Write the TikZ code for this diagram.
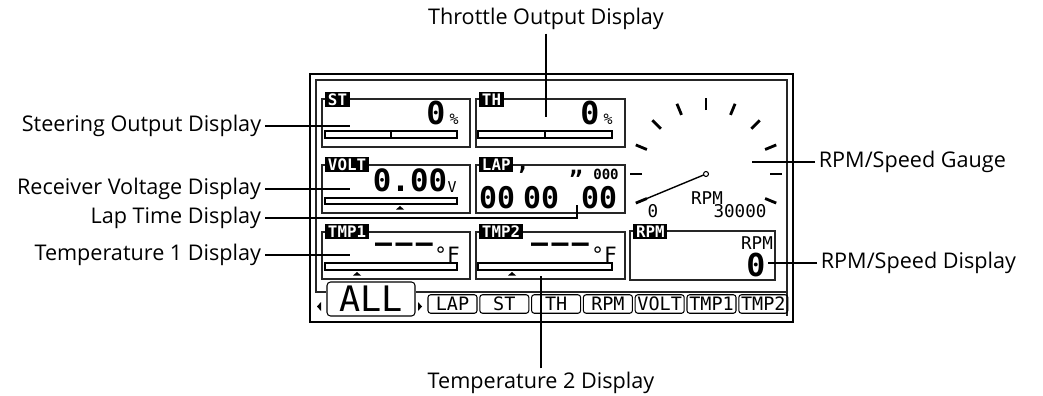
\documentclass[tikz,border=0pt]{standalone}
\usepackage{fontspec}
\usetikzlibrary{calc}
\newfontfamily\calloutfont{Open Sans}
\newfontfamily\lcdfont{DejaVu Sans Mono}
\newcommand{\lcdsize}[1]{\lcdfont\fontsize{#1}{#1}\selectfont}

\tikzset{
  panel/.style={draw=black!85, line width=0.6pt},
  tagbox/.style={fill=black, text=white, font=\lcdsize{9}\bfseries, inner xsep=1.5pt, inner ysep=0pt, minimum height=0.29cm, anchor=north west},
  levelbar/.style={draw, line width=0.6pt},
  gaugetick/.style={line width=1.6pt},
  tabbox/.style={draw, line width=0.6pt, rounded corners=1.5pt, minimum width=0.98cm, minimum height=0.37cm, inner sep=0pt, font=\lcdsize{10.5}},
  callout/.style={font=\calloutfont\fontsize{12.3}{14}\selectfont, inner sep=2pt},
  leader/.style={line width=0.6pt},
  lapdigits/.style={font=\lcdsize{17}\bfseries, inner sep=0pt},
  lapmark/.style={font=\lcdsize{13}\bfseries, inner sep=0pt},
}

\begin{document}
\begin{tikzpicture}[x=0.02cm, y=-0.02cm]
\useasboundingbox (0,0) rectangle (1043,395);

% LCD frame
\draw[line width=1.2pt] (310,74) rectangle (793,322);
\draw[panel] (326,292) -- (316,292) -- (316,80) -- (787,80) -- (787,316);
\draw[panel] (416,292) -- (787,292);

% Steering
\draw[panel] (322,99) rectangle (470,147);
\node[tagbox] (sttag) at (325,92) {ST};
\node[font=\lcdsize{18}\bfseries] (stval) at (436,113) {0};
\node[font=\lcdsize{8.5}] (stunit) at (454,119) {\%};
\draw[levelbar] (325,131) rectangle (457,138);
\draw[levelbar] (391,131) -- (391,138);
\coordinate (stpt) at (350,125);

% Throttle
\draw[panel] (476,99) rectangle (625,147);
\node[tagbox] (thtag) at (479,92) {TH};
\node[font=\lcdsize{18}\bfseries] (thval) at (590,113) {0};
\node[font=\lcdsize{8.5}] (thunit) at (608,119) {\%};
\draw[levelbar] (478,131) rectangle (612,138);
\draw[levelbar] (545,131) -- (545,138);
\coordinate (thpt) at (546,117);

% Voltage
\draw[panel] (322,165) rectangle (470,213);
\node[tagbox] (vttag) at (325,157) {VOLT};
\node[font=\lcdsize{17.5}\bfseries] (vtval) at (410,180) {0.00};
\node[font=\lcdsize{8.5}] (vtunit) at (452,187) {V};
\draw[levelbar] (325,198) rectangle (457,204);
\fill (396,209.5) -- (404,209.5) -- (400,206) -- cycle;
\coordinate (vtpt) at (350,189);

% Lap time
\draw[panel] (476,165) rectangle (625,213);
\node[tagbox] (laptag) at (479,157) {LAP};
\node[font=\lcdsize{8}\bfseries] (lapms) at (606,174) {000};
\node[lapdigits] (lapm) at (497,198) {00};
\node[lapdigits] (laps) at (541,198) {00};
\node[lapdigits] (lapc) at (599,198) {00};
\node[lapmark] (lapq1) at (522,175) {\makebox[0pt]{’}};
\node[lapmark] (lapq2) at (576,179) {\makebox[0pt]{”}};
\coordinate (lappt) at (577,205);

% Temperature 1
\draw[panel] (322,232) rectangle (470,279);
\node[tagbox] (tp1tag) at (325,224) {TMP1};
\node[font=\lcdsize{16}\bfseries] (tp1val) at (404,248) {–\kern2pt–\kern2pt–};
\node[font=\lcdsize{12}] (tp1unit) at (447,255) {°F};
\draw[levelbar] (325,263) rectangle (457,270);
\fill (353,275.5) -- (361,275.5) -- (357,272) -- cycle;
\coordinate (tp1pt) at (350,255);

% Temperature 2
\draw[panel] (476,232) rectangle (625,279);
\node[tagbox] (tp2tag) at (479,224) {TMP2};
\node[font=\lcdsize{16}\bfseries] (tp2val) at (560,248) {–\kern2pt–\kern2pt–};
\node[font=\lcdsize{12}] (tp2unit) at (604,255) {°F};
\draw[levelbar] (478,263) rectangle (612,270);
\fill (508,275.5) -- (516,275.5) -- (512,272) -- cycle;
\coordinate (tp2pt) at (541,276);

% RPM display
\draw[panel] (630,231) rectangle (775,280);
\node[tagbox] (rpmtag) at (633,224) {RPM};
\node[font=\lcdsize{10}] (rpmunit) at (757,243) {RPM};
\node[font=\lcdsize{18}\bfseries] (rpmval) at (756,265) {0};
\coordinate (rdpt) at (768,263);

% Gauge
\coordinate (gc) at (706,174);
\foreach \a in {202.5,180,...,-22.5}
  \draw[gaugetick] ($(gc)+(-\a:64)$) -- ($(gc)+(-\a:76)$);
\draw[line width=0.8pt] (gc) -- ($(gc)+(-202.5:66)$);
\draw[line width=0.6pt, fill=white] (gc) circle[radius=2.5];
\node[font=\lcdsize{10}] (gaugeunit) at (707,198) {RPM};
\node[font=\lcdsize{10}] (gaugemin) at (653,211) {0};
\node[font=\lcdsize{10}] (gaugemax) at (740,211) {30000};
\coordinate (ggpt) at (752,162);

% Tabs
\node[tabbox, minimum width=1.76cm, minimum height=0.68cm, rounded corners=2pt, font=\lcdsize{20}] (taball) at (371,299) {ALL};
\fill (321,302) -- (321,311) -- (317,306.5) -- cycle;
\fill (418,302) -- (418,311) -- (422,306.5) -- cycle;
\foreach \t [count=\i from 0] in {LAP,ST,TH,RPM,VOLT,TMP1,TMP2}
  \node[tabbox] (tab\t) at ({452.5+51.8*\i},304) {\t};

% Callouts
\node[callout] (thlbl) at (546,19) {Throttle Output Display};
\node[callout, anchor=east] (stlbl) at (265,126) {Steering Output Display};
\node[callout, anchor=east] (vtlbl) at (265,189) {Receiver Voltage Display};
\node[callout, anchor=east] (laplbl) at (265,218) {Lap Time Display};
\node[callout, anchor=east] (tp1lbl) at (265,255) {Temperature 1 Display};
\node[callout] (tp2lbl) at (541,383) {Temperature 2 Display};
\node[callout, anchor=west] (gglbl) at (815,162) {RPM/Speed Gauge};
\node[callout, anchor=west] (rdlbl) at (817,263) {RPM/Speed Display};

\draw[leader] (thlbl.south) -- (thpt);
\draw[leader] (stlbl.east) -- (stlbl.east -| stpt);
\draw[leader] (vtlbl.east) -- (vtlbl.east -| vtpt);
\draw[leader] (laplbl.east) -| (lappt);
\draw[leader] (tp1lbl.east) -- (tp1lbl.east -| tp1pt);
\draw[leader] (tp2lbl.north) -- (tp2pt);
\draw[leader] (gglbl.west) -- (ggpt);
\draw[leader] (rdlbl.west) -- (rdpt);
\end{tikzpicture}
\end{document}
